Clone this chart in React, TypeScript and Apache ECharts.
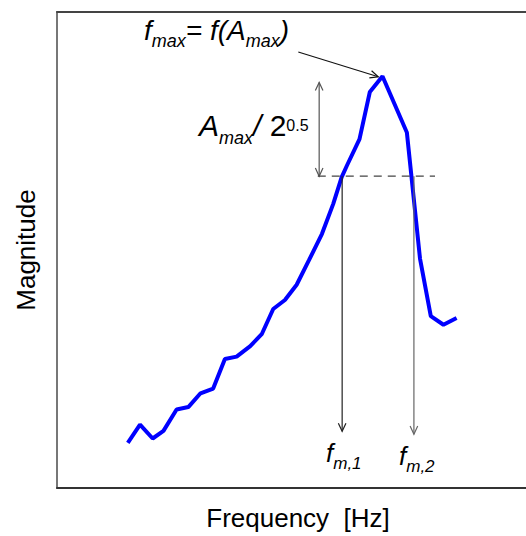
import React, { useEffect, useRef } from "react";
import * as echarts from "echarts";

// Frequency (arbitrary units, 0..100 across the plot) and magnitude (0..1)
const freq = [
  15.1, 17.7, 20.4, 22.7, 25.5, 28.0, 30.6, 33.3, 35.8, 38.3, 41.2, 43.7, 46.1,
  48.6, 51.1, 53.7, 56.5, 58.9, 60.7, 61.8, 64.5, 66.7, 69.4, 74.6, 77.4, 79.7,
  82.4, 85.2,
];
const magnitude = [
  0.095, 0.133, 0.104, 0.12, 0.165, 0.17, 0.199, 0.209, 0.271, 0.276, 0.298,
  0.324, 0.376, 0.395, 0.427, 0.478, 0.534, 0.597, 0.653, 0.677, 0.733, 0.832,
  0.865, 0.747, 0.482, 0.361, 0.343, 0.357,
];

// Annotation values
const thresholdLevel = 0.655; // A_max / 2^0.5
const fm1 = 60.8;
const fm2 = 76.1;
const arrowTopLevel = 0.852;
const bracketX = 55.9;
const dashStart = 55.6;
const dashEnd = 80.6;
const fm1ArrowEnd = 0.119;
const fm2ArrowEnd = 0.113;
const pointerFrom = [51.45, 0.916];
const pointerTo = [68.5, 0.864];

// [x1, y1, x2, y2, headAtStart, headAtEnd, dashed]
const segments = [
  [pointerFrom[0], pointerFrom[1], pointerTo[0], pointerTo[1], 0, 1, 0],
  [bracketX, arrowTopLevel, bracketX, thresholdLevel, 1, 1, 0],
  [dashStart, thresholdLevel, dashEnd, thresholdLevel, 0, 0, 1],
  [fm1, thresholdLevel, fm1, fm1ArrowEnd, 0, 1, 0],
  [fm2, thresholdLevel, fm2, fm2ArrowEnd, 0, 1, 0],
];
const segmentColors = ["#111111", "#555555", "#444444", "#222222", "#666666"];

const FONT = "'Liberation Sans', Arial, sans-serif";

export default function App() {
  const ref = useRef<HTMLDivElement>(null);
  useEffect(() => {
    if (!ref.current) return;
    const chart = echarts.init(ref.current, undefined, { renderer: "svg" });

    const head = (tip: number[], from: number[], color: string) => {
      const dx = from[0] - tip[0];
      const dy = from[1] - tip[1];
      const len = Math.sqrt(dx * dx + dy * dy) || 1;
      const ux = dx / len;
      const uy = dy / len;
      const L = 9;
      const a = (25 * Math.PI) / 180;
      const c = Math.cos(a);
      const s = Math.sin(a);
      const p1 = [tip[0] + L * (ux * c - uy * s), tip[1] + L * (ux * s + uy * c)];
      const p2 = [tip[0] + L * (ux * c + uy * s), tip[1] + L * (-ux * s + uy * c)];
      return {
        type: "polyline",
        shape: { points: [p1, tip, p2] },
        style: { stroke: color, lineWidth: 1.2, fill: "none" },
      };
    };

    const sub = (size: number, pad: number) => ({
      fontSize: size,
      fontStyle: "italic",
      fontFamily: FONT,
      color: "#000",
      lineHeight: size + 2,
      verticalAlign: "top",
      padding: [pad, 0, 0, 0],
    });
    const main = (size: number, italic = true) => ({
      fontSize: size,
      fontStyle: italic ? "italic" : "normal",
      fontFamily: FONT,
      color: "#000",
      lineHeight: size + 4,
      verticalAlign: "top",
    });

    chart.setOption({
      animation: false,
      backgroundColor: "#ffffff",
      grid: { left: 57, top: 12, right: 0, bottom: 45 },
      xAxis: [
        {
          type: "value",
          min: 0,
          max: 100,
          name: "Frequency  [Hz]",
          nameLocation: "middle",
          nameGap: 17,
          nameTextStyle: {
            fontSize: 26,
            fontFamily: FONT,
            color: "#000",
            padding: [0, 0, 0, 13],
          },
          axisLine: { show: true, lineStyle: { color: "#333", width: 2 } },
          axisTick: { show: false },
          axisLabel: { show: false },
          splitLine: { show: false },
        },
        {
          type: "value",
          position: "top",
          min: 0,
          max: 100,
          axisLine: { show: true, lineStyle: { color: "#444", width: 2 } },
          axisTick: { show: false },
          axisLabel: { show: false },
          splitLine: { show: false },
        },
      ],
      yAxis: {
        type: "value",
        min: 0,
        max: 1,
        name: "Magnitude",
        nameLocation: "middle",
        nameGap: 18,
        nameTextStyle: { fontSize: 26, fontFamily: FONT, color: "#000" },
        axisLine: { show: true, lineStyle: { color: "#777", width: 2 } },
        axisTick: { show: false },
        axisLabel: { show: false },
        splitLine: { show: false },
      },
      series: [
        {
          type: "line",
          data: freq.map((f, i) => [f, magnitude[i]]),
          showSymbol: false,
          lineStyle: { color: "#0000ff", width: 4 },
          z: 3,
        },
        {
          type: "custom",
          data: segments,
          clip: false,
          encode: { x: [0, 2], y: [1, 3] },
          z: 4,
          renderItem: (params: any, api: any) => {
            const p1 = api.coord([api.value(0), api.value(1)]);
            const p2 = api.coord([api.value(2), api.value(3)]);
            const color = segmentColors[params.dataIndex];
            const dashed = api.value(6) === 1;
            const children: any[] = [
              {
                type: "line",
                shape: { x1: p1[0], y1: p1[1], x2: p2[0], y2: p2[1] },
                style: {
                  stroke: color,
                  lineWidth: 1.2,
                  lineDash: dashed ? [8, 6] : null,
                },
              },
            ];
            if (api.value(4) === 1) children.push(head(p1, p2, color));
            if (api.value(5) === 1) children.push(head(p2, p1, color));
            return { type: "group", children };
          },
        },
      ],
      graphic: [
        {
          type: "text",
          left: 144,
          top: 16,
          style: {
            text: "{f|f}{s|max}{f|= f(A}{s|max}{f|)}",
            rich: { f: main(28), s: sub(18, 16) },
          },
        },
        {
          type: "text",
          left: 199,
          top: 110,
          style: {
            text: "{a|A}{s|max}{a|/ }{n|2}{p|0.5}",
            rich: {
              a: main(30),
              n: main(30, false),
              s: sub(18, 19),
              p: {
                fontSize: 16,
                fontFamily: FONT,
                color: "#000",
                lineHeight: 18,
                verticalAlign: "top",
                padding: [7, 0, 0, 0],
              },
            },
          },
        },
        {
          type: "text",
          left: 326,
          top: 440,
          style: {
            text: "{f|f}{s|m,1}",
            rich: { f: main(26), s: sub(17, 15) },
          },
        },
        {
          type: "text",
          left: 399,
          top: 443,
          style: {
            text: "{f|f}{s|m,2}",
            rich: { f: main(26), s: sub(17, 15) },
          },
        },
      ],
    });
    return () => chart.dispose();
  }, []);
  return (
    <div
      ref={ref}
      style={{ position: "fixed", left: 0, top: 0, width: 526, height: 536 }}
    />
  );
}
